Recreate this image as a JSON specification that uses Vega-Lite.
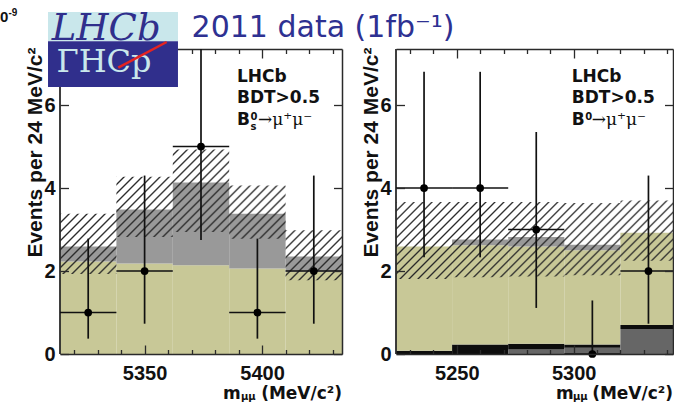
{
  "$schema": "https://vega.github.io/schema/vega-lite/v6.json",
  "background": "white",
  "padding": {"left": 0, "top": 8, "right": 0, "bottom": 0},
  "autosize": {"type": "pad"},
  "spacing": 54,
  "bounds": "flush",
  "resolve": {"scale": {"x": "independent", "y": "independent", "fill": "independent"}},
  "config": {
    "view": {"stroke": null},
    "axis": {
      "grid": false,
      "labelFont": "Liberation Sans",
      "labelFontWeight": "bold",
      "labelFontSize": 20,
      "labelColor": "#111111",
      "domainColor": "#2a2a2a",
      "domainWidth": 1.5,
      "tickColor": "#2a2a2a",
      "tickWidth": 1.3,
      "titleFont": "Liberation Sans",
      "titleFontWeight": "bold",
      "titleFontSize": 21,
      "titleColor": "#111111"
    }
  },
  "datasets": {
    "bsHist": [
      {"lo": 5314, "hi": 5338, "component": "combinatorial", "events": 2.23},
      {"lo": 5314, "hi": 5338, "component": "signal", "events": 0.36},
      {"lo": 5338, "hi": 5362, "component": "combinatorial", "events": 2.18},
      {"lo": 5338, "hi": 5362, "component": "signal", "events": 1.30},
      {"lo": 5362, "hi": 5386, "component": "combinatorial", "events": 2.14},
      {"lo": 5362, "hi": 5386, "component": "signal", "events": 1.99},
      {"lo": 5386, "hi": 5410, "component": "combinatorial", "events": 2.06},
      {"lo": 5386, "hi": 5410, "component": "signal", "events": 1.32},
      {"lo": 5410, "hi": 5434, "component": "combinatorial", "events": 1.98},
      {"lo": 5410, "hi": 5434, "component": "signal", "events": 0.37}
    ],
    "bsBand": [
      {"lo": 5314, "hi": 5338, "bandLow": 1.93, "bandHigh": 3.38},
      {"lo": 5338, "hi": 5362, "bandLow": 2.82, "bandHigh": 4.27},
      {"lo": 5362, "hi": 5386, "bandLow": 2.94, "bandHigh": 4.93},
      {"lo": 5386, "hi": 5410, "bandLow": 2.78, "bandHigh": 4.06},
      {"lo": 5410, "hi": 5434, "bandLow": 1.78, "bandHigh": 2.98}
    ],
    "bsObs": [
      {"mass": 5326, "lo": 5314, "hi": 5338, "count": 1, "errLow": 0.37, "errHigh": 2.78},
      {"mass": 5350, "lo": 5338, "hi": 5362, "count": 2, "errLow": 0.73, "errHigh": 4.30},
      {"mass": 5374, "lo": 5362, "hi": 5386, "count": 5, "errLow": 2.75, "errHigh": 8.38},
      {"mass": 5398, "lo": 5386, "hi": 5410, "count": 1, "errLow": 0.37, "errHigh": 2.78},
      {"mass": 5422, "lo": 5410, "hi": 5434, "count": 2, "errLow": 0.73, "errHigh": 4.30}
    ],
    "bdHist": [
      {"lo": 5224, "hi": 5248, "component": "B⁰ signal", "events": 0.08},
      {"lo": 5224, "hi": 5248, "component": "combinatorial", "events": 2.51},
      {"lo": 5248, "hi": 5272, "component": "B⁰ signal", "events": 0.23},
      {"lo": 5248, "hi": 5272, "component": "combinatorial", "events": 2.39},
      {"lo": 5248, "hi": 5272, "component": "misidentified B→hh", "events": 0.14},
      {"lo": 5272, "hi": 5296, "component": "Bs cross-feed", "events": 0.11},
      {"lo": 5272, "hi": 5296, "component": "B⁰ signal", "events": 0.14},
      {"lo": 5272, "hi": 5296, "component": "combinatorial", "events": 2.34},
      {"lo": 5272, "hi": 5296, "component": "misidentified B→hh", "events": 0.23},
      {"lo": 5296, "hi": 5320, "component": "Bs cross-feed", "events": 0.15},
      {"lo": 5296, "hi": 5320, "component": "B⁰ signal", "events": 0.08},
      {"lo": 5296, "hi": 5320, "component": "combinatorial", "events": 2.27},
      {"lo": 5296, "hi": 5320, "component": "misidentified B→hh", "events": 0.13},
      {"lo": 5320, "hi": 5344, "component": "Bs cross-feed", "events": 0.60},
      {"lo": 5320, "hi": 5344, "component": "B⁰ signal", "events": 0.10},
      {"lo": 5320, "hi": 5344, "component": "combinatorial", "events": 2.22}
    ],
    "bdBand": [
      {"lo": 5224, "hi": 5248, "bandLow": 1.81, "bandHigh": 3.66},
      {"lo": 5248, "hi": 5272, "bandLow": 1.85, "bandHigh": 3.66},
      {"lo": 5272, "hi": 5296, "bandLow": 1.87, "bandHigh": 3.66},
      {"lo": 5296, "hi": 5320, "bandLow": 1.90, "bandHigh": 3.64},
      {"lo": 5320, "hi": 5344, "bandLow": 2.25, "bandHigh": 3.70}
    ],
    "bdObs": [
      {"mass": 5236, "lo": 5224, "hi": 5248, "count": 4, "errLow": 2.33, "errHigh": 6.80},
      {"mass": 5260, "lo": 5248, "hi": 5272, "count": 4, "errLow": 2.33, "errHigh": 6.80},
      {"mass": 5284, "lo": 5272, "hi": 5296, "count": 3, "errLow": 1.11, "errHigh": 5.35},
      {"mass": 5308, "lo": 5296, "hi": 5320, "count": 0, "errLow": 0, "errHigh": 1.29},
      {"mass": 5332, "lo": 5320, "hi": 5344, "count": 2, "errLow": 0.73, "errHigh": 4.30}
    ]
  },
  "hconcat": [
    {
      "width": 282,
      "height": 305,
      "resolve": {"axis": {"x": "independent", "y": "independent"}},
      "layer": [
        {
          "data": {"name": "bsHist"},
          "transform": [{"stack": "events", "groupby": ["lo"], "sort": [{"field": "component", "order": "ascending"}], "as": ["y0", "y1"]}],
          "mark": {"type": "rect", "clip": true},
          "encoding": {
            "x": {"field": "lo", "type": "quantitative", "scale": {"domain": [5314, 5434], "nice": false, "zero": false},
              "axis": {"orient": "bottom", "values": [5320, 5330, 5340, 5350, 5360, 5370, 5380, 5390, 5400, 5410, 5420, 5430], "format": "d",
                "labelExpr": "datum.value % 50 === 0 ? datum.label : ''",
                "tickSize": {"condition": {"test": "datum.value % 50 === 0", "value": -9}, "value": -4.5},
                "labelPadding": 18, "labelOverlap": false, "labelFlush": false, "domain": true, "zindex": 1, "title": null}},
            "x2": {"field": "hi"},
            "y": {"field": "y1", "type": "quantitative", "scale": {"domain": [0, 7.35], "nice": false, "zero": false},
              "axis": {"orient": "left", "values": [0, 2, 4, 6], "format": "d", "tickSize": -8.5, "labelPadding": 13.5, "domain": false, "zindex": 1,
                "title": "Events per 24 MeV/c²", "titleAngle": -90, "titleAlign": "right", "titleBaseline": "middle", "titleX": -24.3, "titleY": -2}},
            "y2": {"field": "y0"},
            "fill": {"field": "component", "type": "nominal", "scale": {"domain": ["combinatorial", "signal"], "range": ["#c8c897", "#999999"]}, "legend": null}
          }
        },
        {
          "data": {"name": "bsBand"},
          "transform": [{"fold": ["lo", "hi"], "as": ["edge", "mass"]}],
          "mark": {"type": "area", "clip": true, "interpolate": "linear",
            "fill": {"gradient": "linear", "x1": 0, "y1": 0, "x2": 1.2047, "y2": 0.5584, "stops": [
              {"offset": 0, "color": "rgba(40,40,40,0)"}, {"offset": 0.0045, "color": "#282828"}, {"offset": 0.009, "color": "rgba(40,40,40,0)"},
              {"offset": 0.0217, "color": "rgba(40,40,40,0)"}, {"offset": 0.0262, "color": "#282828"}, {"offset": 0.0307, "color": "rgba(40,40,40,0)"},
              {"offset": 0.0435, "color": "rgba(40,40,40,0)"}, {"offset": 0.048, "color": "#282828"}, {"offset": 0.0525, "color": "rgba(40,40,40,0)"},
              {"offset": 0.0652, "color": "rgba(40,40,40,0)"}, {"offset": 0.0697, "color": "#282828"}, {"offset": 0.0742, "color": "rgba(40,40,40,0)"},
              {"offset": 0.087, "color": "rgba(40,40,40,0)"}, {"offset": 0.0915, "color": "#282828"}, {"offset": 0.096, "color": "rgba(40,40,40,0)"},
              {"offset": 0.1087, "color": "rgba(40,40,40,0)"}, {"offset": 0.1132, "color": "#282828"}, {"offset": 0.1177, "color": "rgba(40,40,40,0)"},
              {"offset": 0.1304, "color": "rgba(40,40,40,0)"}, {"offset": 0.1349, "color": "#282828"}, {"offset": 0.1394, "color": "rgba(40,40,40,0)"},
              {"offset": 0.1522, "color": "rgba(40,40,40,0)"}, {"offset": 0.1567, "color": "#282828"}, {"offset": 0.1612, "color": "rgba(40,40,40,0)"},
              {"offset": 0.1739, "color": "rgba(40,40,40,0)"}, {"offset": 0.1784, "color": "#282828"}, {"offset": 0.1829, "color": "rgba(40,40,40,0)"},
              {"offset": 0.1957, "color": "rgba(40,40,40,0)"}, {"offset": 0.2002, "color": "#282828"}, {"offset": 0.2047, "color": "rgba(40,40,40,0)"},
              {"offset": 0.2174, "color": "rgba(40,40,40,0)"}, {"offset": 0.2219, "color": "#282828"}, {"offset": 0.2264, "color": "rgba(40,40,40,0)"},
              {"offset": 0.2391, "color": "rgba(40,40,40,0)"}, {"offset": 0.2436, "color": "#282828"}, {"offset": 0.2481, "color": "rgba(40,40,40,0)"},
              {"offset": 0.2609, "color": "rgba(40,40,40,0)"}, {"offset": 0.2654, "color": "#282828"}, {"offset": 0.2699, "color": "rgba(40,40,40,0)"},
              {"offset": 0.2826, "color": "rgba(40,40,40,0)"}, {"offset": 0.2871, "color": "#282828"}, {"offset": 0.2916, "color": "rgba(40,40,40,0)"},
              {"offset": 0.3043, "color": "rgba(40,40,40,0)"}, {"offset": 0.3088, "color": "#282828"}, {"offset": 0.3133, "color": "rgba(40,40,40,0)"},
              {"offset": 0.3261, "color": "rgba(40,40,40,0)"}, {"offset": 0.3306, "color": "#282828"}, {"offset": 0.3351, "color": "rgba(40,40,40,0)"},
              {"offset": 0.3478, "color": "rgba(40,40,40,0)"}, {"offset": 0.3523, "color": "#282828"}, {"offset": 0.3568, "color": "rgba(40,40,40,0)"},
              {"offset": 0.3696, "color": "rgba(40,40,40,0)"}, {"offset": 0.3741, "color": "#282828"}, {"offset": 0.3786, "color": "rgba(40,40,40,0)"},
              {"offset": 0.3913, "color": "rgba(40,40,40,0)"}, {"offset": 0.3958, "color": "#282828"}, {"offset": 0.4003, "color": "rgba(40,40,40,0)"},
              {"offset": 0.413, "color": "rgba(40,40,40,0)"}, {"offset": 0.4175, "color": "#282828"}, {"offset": 0.422, "color": "rgba(40,40,40,0)"},
              {"offset": 0.4348, "color": "rgba(40,40,40,0)"}, {"offset": 0.4393, "color": "#282828"}, {"offset": 0.4438, "color": "rgba(40,40,40,0)"},
              {"offset": 0.4565, "color": "rgba(40,40,40,0)"}, {"offset": 0.461, "color": "#282828"}, {"offset": 0.4655, "color": "rgba(40,40,40,0)"},
              {"offset": 0.4783, "color": "rgba(40,40,40,0)"}, {"offset": 0.4828, "color": "#282828"}, {"offset": 0.4873, "color": "rgba(40,40,40,0)"},
              {"offset": 0.5, "color": "rgba(40,40,40,0)"}, {"offset": 0.5045, "color": "#282828"}, {"offset": 0.509, "color": "rgba(40,40,40,0)"},
              {"offset": 0.5217, "color": "rgba(40,40,40,0)"}, {"offset": 0.5262, "color": "#282828"}, {"offset": 0.5307, "color": "rgba(40,40,40,0)"},
              {"offset": 0.5435, "color": "rgba(40,40,40,0)"}, {"offset": 0.548, "color": "#282828"}, {"offset": 0.5525, "color": "rgba(40,40,40,0)"},
              {"offset": 0.5652, "color": "rgba(40,40,40,0)"}, {"offset": 0.5697, "color": "#282828"}, {"offset": 0.5742, "color": "rgba(40,40,40,0)"},
              {"offset": 0.587, "color": "rgba(40,40,40,0)"}, {"offset": 0.5915, "color": "#282828"}, {"offset": 0.596, "color": "rgba(40,40,40,0)"},
              {"offset": 0.6087, "color": "rgba(40,40,40,0)"}, {"offset": 0.6132, "color": "#282828"}, {"offset": 0.6177, "color": "rgba(40,40,40,0)"},
              {"offset": 0.6304, "color": "rgba(40,40,40,0)"}, {"offset": 0.6349, "color": "#282828"}, {"offset": 0.6394, "color": "rgba(40,40,40,0)"},
              {"offset": 0.6522, "color": "rgba(40,40,40,0)"}, {"offset": 0.6567, "color": "#282828"}, {"offset": 0.6612, "color": "rgba(40,40,40,0)"},
              {"offset": 0.6739, "color": "rgba(40,40,40,0)"}, {"offset": 0.6784, "color": "#282828"}, {"offset": 0.6829, "color": "rgba(40,40,40,0)"},
              {"offset": 0.6957, "color": "rgba(40,40,40,0)"}, {"offset": 0.7002, "color": "#282828"}, {"offset": 0.7047, "color": "rgba(40,40,40,0)"},
              {"offset": 0.7174, "color": "rgba(40,40,40,0)"}, {"offset": 0.7219, "color": "#282828"}, {"offset": 0.7264, "color": "rgba(40,40,40,0)"},
              {"offset": 0.7391, "color": "rgba(40,40,40,0)"}, {"offset": 0.7436, "color": "#282828"}, {"offset": 0.7481, "color": "rgba(40,40,40,0)"},
              {"offset": 0.7609, "color": "rgba(40,40,40,0)"}, {"offset": 0.7654, "color": "#282828"}, {"offset": 0.7699, "color": "rgba(40,40,40,0)"},
              {"offset": 0.7826, "color": "rgba(40,40,40,0)"}, {"offset": 0.7871, "color": "#282828"}, {"offset": 0.7916, "color": "rgba(40,40,40,0)"},
              {"offset": 0.8043, "color": "rgba(40,40,40,0)"}, {"offset": 0.8088, "color": "#282828"}, {"offset": 0.8133, "color": "rgba(40,40,40,0)"},
              {"offset": 0.8261, "color": "rgba(40,40,40,0)"}, {"offset": 0.8306, "color": "#282828"}, {"offset": 0.8351, "color": "rgba(40,40,40,0)"},
              {"offset": 0.8478, "color": "rgba(40,40,40,0)"}, {"offset": 0.8523, "color": "#282828"}, {"offset": 0.8568, "color": "rgba(40,40,40,0)"},
              {"offset": 0.8696, "color": "rgba(40,40,40,0)"}, {"offset": 0.8741, "color": "#282828"}, {"offset": 0.8786, "color": "rgba(40,40,40,0)"},
              {"offset": 0.8913, "color": "rgba(40,40,40,0)"}, {"offset": 0.8958, "color": "#282828"}, {"offset": 0.9003, "color": "rgba(40,40,40,0)"},
              {"offset": 0.913, "color": "rgba(40,40,40,0)"}, {"offset": 0.9175, "color": "#282828"}, {"offset": 0.922, "color": "rgba(40,40,40,0)"},
              {"offset": 0.9348, "color": "rgba(40,40,40,0)"}, {"offset": 0.9393, "color": "#282828"}, {"offset": 0.9438, "color": "rgba(40,40,40,0)"},
              {"offset": 0.9565, "color": "rgba(40,40,40,0)"}, {"offset": 0.961, "color": "#282828"}, {"offset": 0.9655, "color": "rgba(40,40,40,0)"},
              {"offset": 0.9783, "color": "rgba(40,40,40,0)"}, {"offset": 0.9828, "color": "#282828"}, {"offset": 0.9873, "color": "rgba(40,40,40,0)"},
              {"offset": 1, "color": "rgba(40,40,40,0)"}
            ]}},
          "encoding": {
            "x": {"field": "mass", "type": "quantitative", "axis": null},
            "y": {"field": "bandHigh", "type": "quantitative", "axis": null},
            "y2": {"field": "bandLow"},
            "order": [{"field": "mass", "type": "quantitative", "sort": "ascending"}, {"field": "edge", "type": "nominal", "sort": "ascending"}]
          }
        },
        {
          "data": {"values": [{}]},
          "mark": {"type": "rule", "color": "#2a2a2a", "strokeWidth": 1.8},
          "encoding": {
            "x": {"datum": 5314, "type": "quantitative",
              "axis": {"orient": "top", "values": [5320, 5330, 5340, 5350, 5360, 5370, 5380, 5390, 5400, 5410, 5420, 5430], "labels": false,
                "tickSize": {"condition": {"test": "datum.value % 50 === 0", "value": -9}, "value": -4.5}, "domain": true, "zindex": 0, "title": null}},
            "y": {"datum": 0, "type": "quantitative",
              "axis": {"orient": "right", "values": [0, 2, 4, 6], "labels": false, "tickSize": -8.5, "domain": true, "zindex": 1, "title": null}},
            "y2": {"datum": 7.35}
          }
        },
        {
          "data": {"name": "bsObs"},
          "mark": {"type": "rule", "color": "#111111", "strokeWidth": 1.7, "clip": true},
          "encoding": {
            "x": {"field": "mass", "type": "quantitative", "axis": null},
            "y": {"field": "errLow", "type": "quantitative", "axis": null},
            "y2": {"field": "errHigh"}
          }
        },
        {
          "data": {"name": "bsObs"},
          "mark": {"type": "rule", "color": "#111111", "strokeWidth": 1.7, "clip": true},
          "encoding": {
            "x": {"field": "lo", "type": "quantitative", "axis": null},
            "x2": {"field": "hi"},
            "y": {"field": "count", "type": "quantitative", "axis": null}
          }
        },
        {
          "data": {"name": "bsObs"},
          "mark": {"type": "point", "shape": "circle", "filled": true, "size": 60, "color": "#000000", "opacity": 1},
          "encoding": {
            "x": {"field": "mass", "type": "quantitative", "axis": null},
            "y": {"field": "count", "type": "quantitative", "axis": null}
          }
        },
        {
          "data": {"values": [{}]},
          "mark": {"type": "text", "text": "0", "align": "left", "baseline": "alphabetic", "font": "Liberation Sans", "fontWeight": "bold", "fontSize": 15, "color": "#111111"},
          "encoding": {"x": {"datum": 5288.47, "type": "quantitative", "axis": null}, "y": {"datum": 7.989, "type": "quantitative", "axis": null}}
        },
        {
          "data": {"values": [{}]},
          "mark": {"type": "text", "text": "-9", "align": "left", "baseline": "alphabetic", "font": "Liberation Sans", "fontWeight": "bold", "fontSize": 10, "color": "#111111", "dx": 8.5, "dy": -6},
          "encoding": {"x": {"datum": 5288.47, "type": "quantitative", "axis": null}, "y": {"datum": 7.989, "type": "quantitative", "axis": null}}
        },
        {
          "data": {"values": [{}]},
          "mark": {"type": "text", "text": "2011 data (1fb⁻¹)", "align": "left", "baseline": "alphabetic", "font": "DejaVu Sans", "fontSize": 30, "color": "#2e3192"},
          "encoding": {"x": {"datum": 5370, "type": "quantitative", "axis": null}, "y": {"datum": 7.639, "type": "quantitative", "axis": null}}
        },
        {
          "data": {"values": [{}]},
          "mark": {"type": "text", "text": "LHCb", "align": "left", "baseline": "alphabetic", "font": "DejaVu Sans", "fontWeight": "bold", "fontSize": 17, "color": "#111111"},
          "encoding": {"x": {"datum": 5389.3, "type": "quantitative", "axis": null}, "y": {"datum": 6.555, "type": "quantitative", "axis": null}}
        },
        {
          "data": {"values": [{}]},
          "mark": {"type": "text", "text": "BDT>0.5", "align": "left", "baseline": "alphabetic", "font": "DejaVu Sans", "fontWeight": "bold", "fontSize": 17, "color": "#111111"},
          "encoding": {"x": {"datum": 5389.3, "type": "quantitative", "axis": null}, "y": {"datum": 6.048, "type": "quantitative", "axis": null}}
        },
        {
          "data": {"values": [{}]},
          "mark": {"type": "text", "text": "B", "align": "left", "baseline": "alphabetic", "font": "DejaVu Sans", "fontWeight": "bold", "fontSize": 17, "color": "#111111"},
          "encoding": {"x": {"datum": 5389.3, "type": "quantitative", "axis": null}, "y": {"datum": 5.519, "type": "quantitative", "axis": null}}
        },
        {
          "data": {"values": [{}]},
          "mark": {"type": "text", "text": "0", "align": "left", "baseline": "alphabetic", "font": "DejaVu Sans", "fontWeight": "bold", "fontSize": 10, "color": "#111111", "dx": 13.5, "dy": -5},
          "encoding": {"x": {"datum": 5389.3, "type": "quantitative", "axis": null}, "y": {"datum": 5.519, "type": "quantitative", "axis": null}}
        },
        {
          "data": {"values": [{}]},
          "mark": {"type": "text", "text": "s", "align": "left", "baseline": "alphabetic", "font": "DejaVu Sans", "fontWeight": "bold", "fontSize": 10, "color": "#111111", "dx": 13.5, "dy": 5},
          "encoding": {"x": {"datum": 5389.3, "type": "quantitative", "axis": null}, "y": {"datum": 5.519, "type": "quantitative", "axis": null}}
        },
        {
          "data": {"values": [{}]},
          "mark": {"type": "text", "text": "→μ⁺μ⁻", "align": "left", "baseline": "alphabetic", "font": "DejaVu Serif", "fontSize": 17, "color": "#111111", "dx": 21},
          "encoding": {"x": {"datum": 5389.3, "type": "quantitative", "axis": null}, "y": {"datum": 5.519, "type": "quantitative", "axis": null}}
        },
        {
          "data": {"values": [{}]},
          "mark": {"type": "text", "text": "m", "align": "left", "baseline": "alphabetic", "font": "DejaVu Sans", "fontWeight": "bold", "fontSize": 17, "color": "#111111"},
          "encoding": {"x": {"datum": 5383.4, "type": "quantitative", "axis": null}, "y": {"datum": -1.077, "type": "quantitative", "axis": null}}
        },
        {
          "data": {"values": [{}]},
          "mark": {"type": "text", "text": "μμ", "align": "left", "baseline": "alphabetic", "font": "DejaVu Sans", "fontWeight": "bold", "fontSize": 10, "color": "#111111"},
          "encoding": {"x": {"datum": 5391.0, "type": "quantitative", "axis": null}, "y": {"datum": -1.12, "type": "quantitative", "axis": null}}
        },
        {
          "data": {"values": [{}]},
          "mark": {"type": "text", "text": "(MeV/c²)", "align": "right", "baseline": "alphabetic", "font": "DejaVu Sans", "fontWeight": "bold", "fontSize": 17, "color": "#111111"},
          "encoding": {"x": {"datum": 5434, "type": "quantitative", "axis": null}, "y": {"datum": -1.077, "type": "quantitative", "axis": null}}
        },
        {
          "data": {"values": [{}]},
          "mark": {"type": "rect", "color": "#c9e7eb"},
          "encoding": {"x": {"datum": 5308.9, "type": "quantitative", "axis": null}, "x2": {"datum": 5364.2}, "y": {"datum": 8.241, "type": "quantitative", "axis": null}, "y2": {"datum": 7.535}}
        },
        {
          "data": {"values": [{}]},
          "mark": {"type": "rect", "color": "#302f8c"},
          "encoding": {"x": {"datum": 5308.9, "type": "quantitative", "axis": null}, "x2": {"datum": 5364.2}, "y": {"datum": 7.535, "type": "quantitative", "axis": null}, "y2": {"datum": 6.434}}
        },
        {
          "data": {"values": [{}]},
          "mark": {"type": "text", "text": "LHCb", "align": "left", "baseline": "alphabetic", "font": "DejaVu Serif", "fontStyle": "italic", "fontSize": 37, "color": "#302f8c"},
          "encoding": {"x": {"datum": 5310.5, "type": "quantitative", "axis": null}, "y": {"datum": 7.57, "type": "quantitative", "axis": null}}
        },
        {
          "data": {"values": [{}]},
          "mark": {"type": "text", "text": "ΓHCp", "align": "left", "baseline": "top", "font": "DejaVu Serif", "fontSize": 32, "color": "#c9e7eb"},
          "encoding": {"x": {"datum": 5312.5, "type": "quantitative", "axis": null}, "y": {"datum": 7.40, "type": "quantitative", "axis": null}}
        },
        {
          "data": {"values": [{}]},
          "mark": {"type": "rule", "color": "#e52421", "strokeWidth": 2.5},
          "encoding": {"x": {"datum": 5338.8, "type": "quantitative", "axis": null}, "x2": {"datum": 5359.4}, "y": {"datum": 6.899, "type": "quantitative", "axis": null}, "y2": {"datum": 7.519}}
        }
      ]
    },
    {
      "width": 277,
      "height": 305,
      "resolve": {"axis": {"x": "independent", "y": "independent"}},
      "layer": [
        {
          "data": {"name": "bdHist"},
          "transform": [{"stack": "events", "groupby": ["lo"], "sort": [{"field": "component", "order": "ascending"}], "as": ["y0", "y1"]}],
          "mark": {"type": "rect", "clip": true},
          "encoding": {
            "x": {"field": "lo", "type": "quantitative", "scale": {"domain": [5224, 5342.5], "nice": false, "zero": false},
              "axis": {"orient": "bottom", "values": [5230, 5240, 5250, 5260, 5270, 5280, 5290, 5300, 5310, 5320, 5330, 5340], "format": "d",
                "labelExpr": "datum.value % 50 === 0 ? datum.label : ''",
                "tickSize": {"condition": {"test": "datum.value % 50 === 0", "value": -9}, "value": -4.5},
                "labelPadding": 18, "labelOverlap": false, "labelFlush": false, "domain": true, "zindex": 1, "title": null}},
            "x2": {"field": "hi"},
            "y": {"field": "y1", "type": "quantitative", "scale": {"domain": [0, 7.35], "nice": false, "zero": false},
              "axis": {"orient": "left", "values": [0, 2, 4, 6], "format": "d", "tickSize": -8.5, "labelPadding": 13.5, "domain": false, "zindex": 1,
                "title": "Events per 24 MeV/c²", "titleAngle": -90, "titleAlign": "right", "titleBaseline": "middle", "titleX": -24.3, "titleY": -2}},
            "y2": {"field": "y0"},
            "fill": {"field": "component", "type": "nominal", "scale": {"domain": ["Bs cross-feed", "B⁰ signal", "combinatorial", "misidentified B→hh"], "range": ["#666666", "#0d0d0d", "#c8c897", "#999999"]}, "legend": null}
          }
        },
        {
          "data": {"name": "bdBand"},
          "transform": [{"fold": ["lo", "hi"], "as": ["edge", "mass"]}],
          "mark": {"type": "area", "clip": true, "interpolate": "linear",
            "fill": {"gradient": "linear", "x1": 0, "y1": 0, "x2": 1.1868, "y2": 0.3318, "stops": [
              {"offset": 0, "color": "rgba(40,40,40,0)"}, {"offset": 0.005, "color": "#282828"}, {"offset": 0.01, "color": "rgba(40,40,40,0)"},
              {"offset": 0.025, "color": "rgba(40,40,40,0)"}, {"offset": 0.03, "color": "#282828"}, {"offset": 0.035, "color": "rgba(40,40,40,0)"},
              {"offset": 0.05, "color": "rgba(40,40,40,0)"}, {"offset": 0.055, "color": "#282828"}, {"offset": 0.06, "color": "rgba(40,40,40,0)"},
              {"offset": 0.075, "color": "rgba(40,40,40,0)"}, {"offset": 0.08, "color": "#282828"}, {"offset": 0.085, "color": "rgba(40,40,40,0)"},
              {"offset": 0.1, "color": "rgba(40,40,40,0)"}, {"offset": 0.105, "color": "#282828"}, {"offset": 0.11, "color": "rgba(40,40,40,0)"},
              {"offset": 0.125, "color": "rgba(40,40,40,0)"}, {"offset": 0.13, "color": "#282828"}, {"offset": 0.135, "color": "rgba(40,40,40,0)"},
              {"offset": 0.15, "color": "rgba(40,40,40,0)"}, {"offset": 0.155, "color": "#282828"}, {"offset": 0.16, "color": "rgba(40,40,40,0)"},
              {"offset": 0.175, "color": "rgba(40,40,40,0)"}, {"offset": 0.18, "color": "#282828"}, {"offset": 0.185, "color": "rgba(40,40,40,0)"},
              {"offset": 0.2, "color": "rgba(40,40,40,0)"}, {"offset": 0.205, "color": "#282828"}, {"offset": 0.21, "color": "rgba(40,40,40,0)"},
              {"offset": 0.225, "color": "rgba(40,40,40,0)"}, {"offset": 0.23, "color": "#282828"}, {"offset": 0.235, "color": "rgba(40,40,40,0)"},
              {"offset": 0.25, "color": "rgba(40,40,40,0)"}, {"offset": 0.255, "color": "#282828"}, {"offset": 0.26, "color": "rgba(40,40,40,0)"},
              {"offset": 0.275, "color": "rgba(40,40,40,0)"}, {"offset": 0.28, "color": "#282828"}, {"offset": 0.285, "color": "rgba(40,40,40,0)"},
              {"offset": 0.3, "color": "rgba(40,40,40,0)"}, {"offset": 0.305, "color": "#282828"}, {"offset": 0.31, "color": "rgba(40,40,40,0)"},
              {"offset": 0.325, "color": "rgba(40,40,40,0)"}, {"offset": 0.33, "color": "#282828"}, {"offset": 0.335, "color": "rgba(40,40,40,0)"},
              {"offset": 0.35, "color": "rgba(40,40,40,0)"}, {"offset": 0.355, "color": "#282828"}, {"offset": 0.36, "color": "rgba(40,40,40,0)"},
              {"offset": 0.375, "color": "rgba(40,40,40,0)"}, {"offset": 0.38, "color": "#282828"}, {"offset": 0.385, "color": "rgba(40,40,40,0)"},
              {"offset": 0.4, "color": "rgba(40,40,40,0)"}, {"offset": 0.405, "color": "#282828"}, {"offset": 0.41, "color": "rgba(40,40,40,0)"},
              {"offset": 0.425, "color": "rgba(40,40,40,0)"}, {"offset": 0.43, "color": "#282828"}, {"offset": 0.435, "color": "rgba(40,40,40,0)"},
              {"offset": 0.45, "color": "rgba(40,40,40,0)"}, {"offset": 0.455, "color": "#282828"}, {"offset": 0.46, "color": "rgba(40,40,40,0)"},
              {"offset": 0.475, "color": "rgba(40,40,40,0)"}, {"offset": 0.48, "color": "#282828"}, {"offset": 0.485, "color": "rgba(40,40,40,0)"},
              {"offset": 0.5, "color": "rgba(40,40,40,0)"}, {"offset": 0.505, "color": "#282828"}, {"offset": 0.51, "color": "rgba(40,40,40,0)"},
              {"offset": 0.525, "color": "rgba(40,40,40,0)"}, {"offset": 0.53, "color": "#282828"}, {"offset": 0.535, "color": "rgba(40,40,40,0)"},
              {"offset": 0.55, "color": "rgba(40,40,40,0)"}, {"offset": 0.555, "color": "#282828"}, {"offset": 0.56, "color": "rgba(40,40,40,0)"},
              {"offset": 0.575, "color": "rgba(40,40,40,0)"}, {"offset": 0.58, "color": "#282828"}, {"offset": 0.585, "color": "rgba(40,40,40,0)"},
              {"offset": 0.6, "color": "rgba(40,40,40,0)"}, {"offset": 0.605, "color": "#282828"}, {"offset": 0.61, "color": "rgba(40,40,40,0)"},
              {"offset": 0.625, "color": "rgba(40,40,40,0)"}, {"offset": 0.63, "color": "#282828"}, {"offset": 0.635, "color": "rgba(40,40,40,0)"},
              {"offset": 0.65, "color": "rgba(40,40,40,0)"}, {"offset": 0.655, "color": "#282828"}, {"offset": 0.66, "color": "rgba(40,40,40,0)"},
              {"offset": 0.675, "color": "rgba(40,40,40,0)"}, {"offset": 0.68, "color": "#282828"}, {"offset": 0.685, "color": "rgba(40,40,40,0)"},
              {"offset": 0.7, "color": "rgba(40,40,40,0)"}, {"offset": 0.705, "color": "#282828"}, {"offset": 0.71, "color": "rgba(40,40,40,0)"},
              {"offset": 0.725, "color": "rgba(40,40,40,0)"}, {"offset": 0.73, "color": "#282828"}, {"offset": 0.735, "color": "rgba(40,40,40,0)"},
              {"offset": 0.75, "color": "rgba(40,40,40,0)"}, {"offset": 0.755, "color": "#282828"}, {"offset": 0.76, "color": "rgba(40,40,40,0)"},
              {"offset": 0.775, "color": "rgba(40,40,40,0)"}, {"offset": 0.78, "color": "#282828"}, {"offset": 0.785, "color": "rgba(40,40,40,0)"},
              {"offset": 0.8, "color": "rgba(40,40,40,0)"}, {"offset": 0.805, "color": "#282828"}, {"offset": 0.81, "color": "rgba(40,40,40,0)"},
              {"offset": 0.825, "color": "rgba(40,40,40,0)"}, {"offset": 0.83, "color": "#282828"}, {"offset": 0.835, "color": "rgba(40,40,40,0)"},
              {"offset": 0.85, "color": "rgba(40,40,40,0)"}, {"offset": 0.855, "color": "#282828"}, {"offset": 0.86, "color": "rgba(40,40,40,0)"},
              {"offset": 0.875, "color": "rgba(40,40,40,0)"}, {"offset": 0.88, "color": "#282828"}, {"offset": 0.885, "color": "rgba(40,40,40,0)"},
              {"offset": 0.9, "color": "rgba(40,40,40,0)"}, {"offset": 0.905, "color": "#282828"}, {"offset": 0.91, "color": "rgba(40,40,40,0)"},
              {"offset": 0.925, "color": "rgba(40,40,40,0)"}, {"offset": 0.93, "color": "#282828"}, {"offset": 0.935, "color": "rgba(40,40,40,0)"},
              {"offset": 0.95, "color": "rgba(40,40,40,0)"}, {"offset": 0.955, "color": "#282828"}, {"offset": 0.96, "color": "rgba(40,40,40,0)"},
              {"offset": 0.975, "color": "rgba(40,40,40,0)"}, {"offset": 0.98, "color": "#282828"}, {"offset": 0.985, "color": "rgba(40,40,40,0)"},
              {"offset": 1, "color": "rgba(40,40,40,0)"}
            ]}},
          "encoding": {
            "x": {"field": "mass", "type": "quantitative", "axis": null},
            "y": {"field": "bandHigh", "type": "quantitative", "axis": null},
            "y2": {"field": "bandLow"},
            "order": [{"field": "mass", "type": "quantitative", "sort": "ascending"}, {"field": "edge", "type": "nominal", "sort": "ascending"}]
          }
        },
        {
          "data": {"values": [{}]},
          "mark": {"type": "rule", "color": "#2a2a2a", "strokeWidth": 1.8},
          "encoding": {
            "x": {"datum": 5224, "type": "quantitative",
              "axis": {"orient": "top", "values": [5230, 5240, 5250, 5260, 5270, 5280, 5290, 5300, 5310, 5320, 5330, 5340], "labels": false,
                "tickSize": {"condition": {"test": "datum.value % 50 === 0", "value": -9}, "value": -4.5}, "domain": true, "zindex": 0, "title": null}},
            "y": {"datum": 0, "type": "quantitative",
              "axis": {"orient": "right", "values": [0, 2, 4, 6], "labels": false, "tickSize": -8.5, "domain": true, "zindex": 1, "title": null}},
            "y2": {"datum": 7.35}
          }
        },
        {
          "data": {"name": "bdObs"},
          "mark": {"type": "rule", "color": "#111111", "strokeWidth": 1.7, "clip": true},
          "encoding": {
            "x": {"field": "mass", "type": "quantitative", "axis": null},
            "y": {"field": "errLow", "type": "quantitative", "axis": null},
            "y2": {"field": "errHigh"}
          }
        },
        {
          "data": {"name": "bdObs"},
          "mark": {"type": "rule", "color": "#111111", "strokeWidth": 1.7, "clip": true},
          "encoding": {
            "x": {"field": "lo", "type": "quantitative", "axis": null},
            "x2": {"field": "hi"},
            "y": {"field": "count", "type": "quantitative", "axis": null}
          }
        },
        {
          "data": {"name": "bdObs"},
          "mark": {"type": "point", "shape": "circle", "filled": true, "size": 60, "color": "#000000", "opacity": 1},
          "encoding": {
            "x": {"field": "mass", "type": "quantitative", "axis": null},
            "y": {"field": "count", "type": "quantitative", "axis": null}
          }
        },
        {
          "data": {"values": [{}]},
          "mark": {"type": "text", "text": "LHCb", "align": "left", "baseline": "alphabetic", "font": "DejaVu Sans", "fontWeight": "bold", "fontSize": 17, "color": "#111111"},
          "encoding": {"x": {"datum": 5299.2, "type": "quantitative", "axis": null}, "y": {"datum": 6.555, "type": "quantitative", "axis": null}}
        },
        {
          "data": {"values": [{}]},
          "mark": {"type": "text", "text": "BDT>0.5", "align": "left", "baseline": "alphabetic", "font": "DejaVu Sans", "fontWeight": "bold", "fontSize": 17, "color": "#111111"},
          "encoding": {"x": {"datum": 5299.2, "type": "quantitative", "axis": null}, "y": {"datum": 6.048, "type": "quantitative", "axis": null}}
        },
        {
          "data": {"values": [{}]},
          "mark": {"type": "text", "text": "B", "align": "left", "baseline": "alphabetic", "font": "DejaVu Sans", "fontWeight": "bold", "fontSize": 17, "color": "#111111"},
          "encoding": {"x": {"datum": 5299.2, "type": "quantitative", "axis": null}, "y": {"datum": 5.519, "type": "quantitative", "axis": null}}
        },
        {
          "data": {"values": [{}]},
          "mark": {"type": "text", "text": "0", "align": "left", "baseline": "alphabetic", "font": "DejaVu Sans", "fontWeight": "bold", "fontSize": 10, "color": "#111111", "dx": 13.5, "dy": -5},
          "encoding": {"x": {"datum": 5299.2, "type": "quantitative", "axis": null}, "y": {"datum": 5.519, "type": "quantitative", "axis": null}}
        },
        {
          "data": {"values": [{}]},
          "mark": {"type": "text", "text": "→μ⁺μ⁻", "align": "left", "baseline": "alphabetic", "font": "DejaVu Serif", "fontSize": 17, "color": "#111111", "dx": 20},
          "encoding": {"x": {"datum": 5299.2, "type": "quantitative", "axis": null}, "y": {"datum": 5.519, "type": "quantitative", "axis": null}}
        },
        {
          "data": {"values": [{}]},
          "mark": {"type": "text", "text": "m", "align": "left", "baseline": "alphabetic", "font": "DejaVu Sans", "fontWeight": "bold", "fontSize": 17, "color": "#111111"},
          "encoding": {"x": {"datum": 5292.4, "type": "quantitative", "axis": null}, "y": {"datum": -1.077, "type": "quantitative", "axis": null}}
        },
        {
          "data": {"values": [{}]},
          "mark": {"type": "text", "text": "μμ", "align": "left", "baseline": "alphabetic", "font": "DejaVu Sans", "fontWeight": "bold", "fontSize": 10, "color": "#111111"},
          "encoding": {"x": {"datum": 5299.7, "type": "quantitative", "axis": null}, "y": {"datum": -1.12, "type": "quantitative", "axis": null}}
        },
        {
          "data": {"values": [{}]},
          "mark": {"type": "text", "text": "(MeV/c²)", "align": "right", "baseline": "alphabetic", "font": "DejaVu Sans", "fontWeight": "bold", "fontSize": 17, "color": "#111111"},
          "encoding": {"x": {"datum": 5342.5, "type": "quantitative", "axis": null}, "y": {"datum": -1.077, "type": "quantitative", "axis": null}}
        }
      ]
    }
  ]
}
